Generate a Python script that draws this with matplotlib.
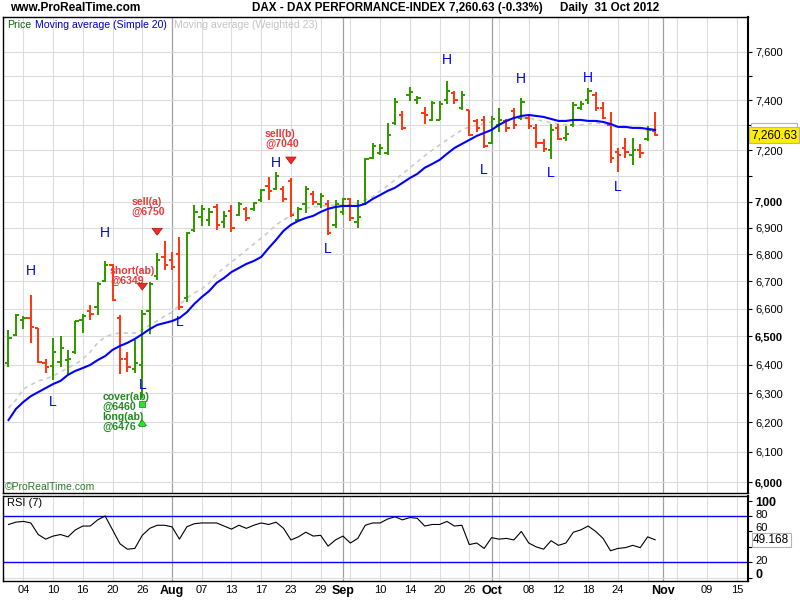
import matplotlib
matplotlib.use("Agg")
import matplotlib.pyplot as plt
from matplotlib.ticker import NullLocator
from matplotlib.patches import Rectangle
import numpy as np
import pandas as pd

plt.rcParams['font.family'] = ['Liberation Sans', 'DejaVu Sans']

# trading days from 2 Jul 2012, the axis runs on into mid November
days = pd.bdate_range("2012-07-02", "2012-11-16")

opens = [6405, 6505, 6560, 6566, 6530, 6405, 6395, 6410, 6416, 6446,
         6560, 6590, 6607, 6700, 6760, 6566, 6420, 6385, 6400, 6590,
         6720, 6790, 6780, 6800, 6640, 6890, 6940, 6930, 6980, 6920,
         6965, 6950, 6970, 6970, 7005, 7060, 7050, 7050, 7080, 6930,
         6990, 7030, 6990, 6990, 6910, 6960, 7010, 6920, 6990, 7170,
         7190, 7190, 7310, 7340, 7420, 7400, 7350, 7320, 7320, 7400,
         7430, 7370, 7360, 7315, 7320, 7230, 7300, 7315, 7355, 7330,
         7330, 7290, 7230, 7200, 7290, 7250, 7300, 7370, 7400, 7420,
         7370, 7300, 7195, 7210, 7180, 7200, 7245, 7275]
highs = [6524, 6582, 6574, 6650, 6530, 6420, 6493, 6500, 6450, 6556,
         6582, 6614, 6697, 6775, 6765, 6578, 6445, 6486, 6596, 6697,
         6806, 6848, 6808, 6864, 6885, 6985, 6985, 6975, 6990, 6962,
         6985, 6997, 6980, 7000, 7050, 7096, 7115, 7060, 7090, 6980,
         7060, 7040, 7031, 7007, 7007, 7015, 7015, 7007, 7169, 7230,
         7226, 7310, 7410, 7355, 7455, 7416, 7375, 7396, 7396, 7480,
         7438, 7438, 7363, 7323, 7335, 7335, 7370, 7323, 7370, 7410,
         7343, 7304, 7245, 7304, 7304, 7296, 7392, 7396, 7450, 7434,
         7392, 7351, 7210, 7250, 7250, 7226, 7296, 7351]
lows = [6390, 6503, 6528, 6475, 6405, 6370, 6345, 6390, 6366, 6436,
        6512, 6560, 6578, 6697, 6628, 6366, 6375, 6370, 6283, 6510,
        6703, 6742, 6742, 6595, 6625, 6885, 6906, 6906, 6890, 6897,
        6885, 6945, 6925, 6965, 7000, 7007, 7045, 7000, 6940, 6925,
        6956, 6985, 6975, 6872, 6897, 6950, 6925, 6897, 6985, 7165,
        7181, 7181, 7300, 7280, 7396, 7385, 7305, 7315, 7320, 7385,
        7385, 7363, 7257, 7273, 7210, 7226, 7273, 7273, 7284, 7320,
        7284, 7210, 7194, 7165, 7240, 7238, 7292, 7363, 7385, 7355,
        7323, 7150, 7115, 7170, 7140, 7170, 7238, 7255]
closes = [6493, 6578, 6565, 6535, 6410, 6390, 6445, 6460, 6420, 6556,
          6575, 6580, 6690, 6760, 6632, 6421, 6390, 6405, 6582, 6690,
          6780, 6760, 6754, 6606, 6880, 6960, 6970, 6960, 6910, 6945,
          6900, 6990, 6935, 6995, 7045, 7040, 7100, 7010, 6950, 6970,
          7050, 7000, 7020, 6880, 6990, 7010, 6935, 6940, 7165, 7215,
          7210, 7260, 7395, 7290, 7435, 7410, 7340, 7390, 7385, 7440,
          7400, 7420, 7262, 7290, 7215, 7325, 7320, 7290, 7300, 7395,
          7295, 7230, 7205, 7280, 7245, 7265, 7380, 7385, 7440, 7370,
          7330, 7170, 7180, 7195, 7200, 7190, 7280, 7260.63]

sma20 = [6208, 6246, 6270, 6290, 6304, 6318, 6332, 6343, 6364, 6378,
         6388, 6399, 6416, 6430, 6452, 6466, 6477, 6491, 6508, 6526,
         6541, 6548, 6555, 6566, 6587, 6617, 6642, 6664, 6694, 6712,
         6734, 6749, 6764, 6775, 6790, 6823, 6854, 6888, 6911, 6926,
         6937, 6945, 6960, 6972, 6979, 6983, 6983, 6983, 6991, 7010,
         7025, 7041, 7053, 7072, 7091, 7107, 7131, 7146, 7162, 7186,
         7209, 7225, 7241, 7257, 7269, 7281, 7301, 7317, 7329, 7337,
         7341, 7337, 7333, 7325, 7317, 7317, 7321, 7321, 7317, 7317,
         7313, 7305, 7293, 7293, 7289, 7289, 7285, 7281]
wma23 = [6249, 6277, 6315, 6329, 6343, 6350, 6360, 6374, 6388, 6402,
         6420, 6445, 6477, 6498, 6508, 6512, 6512, 6512, 6523, 6541,
         6555, 6573, 6587, 6613, 6638, 6657, 6672, 6694, 6727, 6749,
         6771, 6793, 6816, 6838, 6861, 6884, 6911, 6929, 6948, 6968,
         6975, 6979, 6983, 6983, 6987, 6987, 6987, 6995, 7006, 7018,
         7041, 7060, 7084, 7107, 7131, 7154, 7178, 7200, 7221, 7241,
         7261, 7281, 7293, 7301, 7305, 7313, 7317, 7321, 7329, 7329,
         7329, 7321, 7317, 7309, 7305, 7301, 7301, 7301, 7305, 7309,
         7305, 7297, 7293, 7289, 7289, 7285, 7277, 7269]
rsi7 = [69, 72, 73, 71, 56, 50, 54, 56, 53, 62,
        67, 67, 75, 80, 62, 44, 37, 38, 55, 64,
        68, 68, 66, 50, 66, 70, 71, 71, 71, 67,
        63, 68, 64, 68, 71, 69, 72, 64, 49, 53,
        59, 54, 55, 41, 49, 54, 45, 51, 68, 71,
        71, 76, 79, 75, 78, 77, 67, 69, 69, 73,
        67, 68, 43, 45, 38, 52, 50, 51, 49, 60,
        45, 40, 37, 48, 42, 45, 59, 62, 67, 60,
        51, 35, 38, 39, 42, 39, 53, 49.168]

# swing highs / lows marked on the chart
swing_text = ["H", "H", "H", "H", "H", "H", "L", "L", "L", "L", "L", "L", "L"]
swing_dates = ["2012-07-05", "2012-07-19", "2012-08-21", "2012-09-21", "2012-10-05",
               "2012-10-18", "2012-07-10", "2012-07-26", "2012-08-02", "2012-08-30",
               "2012-09-28", "2012-10-11", "2012-10-24"]
swing_prices = [6738, 6880, 7150, 7567, 7488, 7492, 6270, 6329, 6552, 6820, 7122, 7110, 7057]

# trade signals
sell_text = ["sell(a)\n@6750", "short(ab)\n@6349", "sell(b)\n@7040"]
sell_text_dates = ["2012-07-24", "2012-07-19", "2012-08-20"]
sell_text_prices = [6979, 6720, 7243]
sell_text_dx = [0.6, 0.66, -0.5]
sell_arrow_dates = ["2012-07-30", "2012-07-26", "2012-08-23"]
sell_arrow_top = [6903, 6700, 7180]
sell_arrow_bottom = [6861, 6657, 7135]
buy_text = ["cover(ab)\n@6460", "long(ab)\n@6476"]
buy_text_prices = [6270, 6200]
buy_mark_prices = [6262, 6196]

price_ticks = [6000, 6100, 6200, 6300, 6400, 6500, 6600, 6700, 6800, 6900,
               7000, 7100, 7200, 7300, 7400, 7500, 7600]
price_labels = ["6,000", "6,100", "6,200", "6,300", "6,400", "6,500", "6,600", "6,700",
                "6,800", "6,900", "7,000", "", "7,200", "", "7,400", "", "7,600"]
rsi_ticks = [0, 20, 40, 60, 80, 100]
rsi_labels = ["0", "20", "", "60", "80", "100"]

tick_dates = ["2012-07-04", "2012-07-10", "2012-07-16", "2012-07-20", "2012-07-26",
              "2012-08-01", "2012-08-07", "2012-08-13", "2012-08-17", "2012-08-23",
              "2012-08-29", "2012-09-03", "2012-09-10", "2012-09-14", "2012-09-20",
              "2012-09-26", "2012-10-01", "2012-10-08", "2012-10-12", "2012-10-18",
              "2012-10-24", "2012-11-01", "2012-11-09", "2012-11-15"]
tick_labels = ["04", "10", "16", "20", "26", "Aug", "07", "13", "17", "23", "29", "Sep",
               "10", "14", "20", "26", "Oct", "08", "12", "18", "24", "Nov", "09", "15"]
month_starts = ["2012-08-01", "2012-09-03", "2012-10-01", "2012-11-01"]

GREEN = '#339a00'
RED = '#ff3a12'


def pos(d):
    return days.get_loc(pd.Timestamp(d))


def fx(px):
    return px / 800


def fy(py):
    return 1 - py / 600


fig = plt.figure(figsize=(8, 6), dpi=100)
ax = fig.add_axes([fx(3), fy(493), 745 / 800, 476 / 600])
ax2 = fig.add_axes([fx(3), fy(581), 745 / 800, 85 / 600])

idx = np.arange(len(closes))
o = np.array(opens)
c = np.array(closes)
colors = [GREEN if cc >= oo else RED for oo, cc in zip(o, c)]

month_idx = [pos(d) for d in month_starts]
for a in (ax, ax2):
    a.set_xlim(-0.74, 99.5)
    for g in range(2, 100, 4):
        if g not in month_idx:
            a.axvline(g, color='#dcdcdc', lw=0.8, zorder=0)
    for m in month_idx:
        a.axvline(m, color='#a0a0a0', lw=0.9, zorder=0)
    for s in a.spines.values():
        s.set_color('black')
        s.set_linewidth(1)
for p in price_ticks:
    ax.axhline(p, color='#dcdcdc', lw=0.8, zorder=0)

# price bars
ax.vlines(idx, lows, highs, colors=colors, lw=1.45, zorder=3)
ax.hlines(o, idx - 0.45, idx, colors=colors, lw=1.45, zorder=3)
ax.hlines(c, idx, idx + 0.45, colors=colors, lw=1.45, zorder=3)
ax.plot(idx, wma23, color='#cccccc', lw=1.2, ls=(0, (2.5, 2.5)), zorder=2)
ax.plot(idx, sma20, color='#0000ff', lw=1.5, zorder=4)

ax.set_yscale('log')
ax.set_ylim(5964, 7747)
ax.set_yticks(price_ticks, labels=price_labels)
ax.yaxis.set_minor_locator(NullLocator())
ax.yaxis.tick_right()
ax.tick_params(axis='y', direction='out', length=3, labelsize=8, pad=2)
ax.tick_params(axis='x', length=0, labelbottom=False)
for lbl in ax.get_yticklabels():
    if lbl.get_text() in ("6,000", "6,500", "7,000"):
        lbl.set_fontweight('bold')
ax.spines['right'].set_linewidth(1.5)

for t, d, p in zip(swing_text, swing_dates, swing_prices):
    ax.text(pos(d), p, t, color='#0000ee', fontsize=10, ha='center', va='center', zorder=5)

for t, d, p, dx in zip(sell_text, sell_text_dates, sell_text_prices, sell_text_dx):
    ax.text(pos(d) + dx, p, t, color='#e8383a', fontsize=7.6, fontweight='bold',
            ha='left', va='center', linespacing=1.0, zorder=6)
for d, top, bot in zip(sell_arrow_dates, sell_arrow_top, sell_arrow_bottom):
    ax.annotate('', xy=(pos(d), bot), xytext=(pos(d), top),
                arrowprops=dict(arrowstyle='simple,head_width=0.75,head_length=0.5,tail_width=0.35',
                                fc='#f02a2a', ec='#b01010', lw=0.5, mutation_scale=10), zorder=6)
for t, p in zip(buy_text, buy_text_prices):
    ax.text(pos("2012-07-19") - 0.4, p, t, color='#1e8c1e', fontsize=7.6, fontweight='bold',
            ha='left', va='center', linespacing=1.0, zorder=6)
ax.scatter([pos("2012-07-26")], [buy_mark_prices[0]], marker='s', s=22, c='#33dd33',
           edgecolors='#118811', linewidths=0.5, zorder=6)
ax.annotate('', xy=(pos("2012-07-26"), buy_mark_prices[1] + 22),
            xytext=(pos("2012-07-26"), buy_mark_prices[1] - 20),
            arrowprops=dict(arrowstyle='simple,head_width=0.6,head_length=0.4,tail_width=0.4',
                            fc='#33dd33', ec='#118811', lw=0.5, mutation_scale=10), zorder=6)

# RSI panel
ax2.plot(idx, rsi7, color='black', lw=0.8, zorder=3)
ax2.axhline(80, color='#0000ff', lw=1, zorder=2)
ax2.axhline(20, color='#0000ff', lw=1, zorder=2)
ax2.axhline(0, color='#dcdcdc', lw=0.8, zorder=0)
ax2.set_ylim(-4.2, 105.9)
ax2.set_yticks(rsi_ticks, labels=[""] * len(rsi_ticks))
ax2.yaxis.tick_right()
ax2.tick_params(axis='y', direction='out', length=3)
ax2.spines['right'].set_linewidth(1.5)
# RSI scale labels sit a touch above their ticks, as in the original
rsi_label_y = [575, 561, 541, 528, 515, 503]
for lab, yy in zip(rsi_labels, rsi_label_y):
    if lab:
        bold = lab in ("0", "100")
        fig.text(fx(755), fy(yy), lab, fontsize=9 if bold else 8,
                 fontweight='bold' if bold else 'normal', va='center')
ax2.set_xticks([pos(d) for d in tick_dates], labels=tick_labels)
ax2.tick_params(axis='x', length=0, labelsize=8, pad=3)
for lbl in ax2.get_xticklabels():
    if lbl.get_text() in ("Aug", "Sep", "Oct", "Nov"):
        lbl.set_fontweight('bold')
        lbl.set_fontsize(9)

# header and panel captions
fig.text(fx(10), fy(8), "www.ProRealTime.com", fontsize=8.6, fontweight='bold', va='center')
fig.text(fx(252), fy(8), "DAX - DAX PERFORMANCE-INDEX", fontsize=8.4, fontweight='bold', va='center')
fig.text(fx(449), fy(8), "7,260.63 (-0.33%)", fontsize=8.4, fontweight='bold', va='center')
fig.text(fx(560), fy(8), "Daily  31 Oct 2012", fontsize=8.4, fontweight='bold', va='center')
fig.text(fx(7), fy(25), "Price", fontsize=7.6, color='#0a640a', va='center')
fig.text(fx(35), fy(25), "Moving average (Simple 20)", fontsize=7.6, color='#0000cc', va='center')
fig.text(fx(174), fy(25), "Moving average (Weighted 23)", fontsize=7.6, color='#c4c4c4', va='center')
fig.text(fx(5), fy(487), "\u00a9ProRealTime.com", fontsize=7.5, color='#2a7a2a', va='center')
fig.text(fx(7), fy(503), "RSI (7)", fontsize=8, va='center')

# last value boxes on the right axis (moving average box mostly hidden)
fig.add_artist(Rectangle((fx(751), fy(131)), 46 / 800, 8 / 600, transform=fig.transFigure,
                         fc='white', ec='#b4b4b4', lw=0.8))
fig.text(fx(751), fy(135), "7,260.63", fontsize=8.5, color='black', va='center',
         bbox=dict(boxstyle='square,pad=0.15', fc='#ffee00', ec='#b4b4b4', lw=0.8))
fig.text(fx(753), fy(540), "49.168", fontsize=8.5, color='black', va='center',
         bbox=dict(boxstyle='square,pad=0.12', fc='white', ec='#b4b4b4', lw=0.8))

fig.savefig("out.png", dpi=100)
